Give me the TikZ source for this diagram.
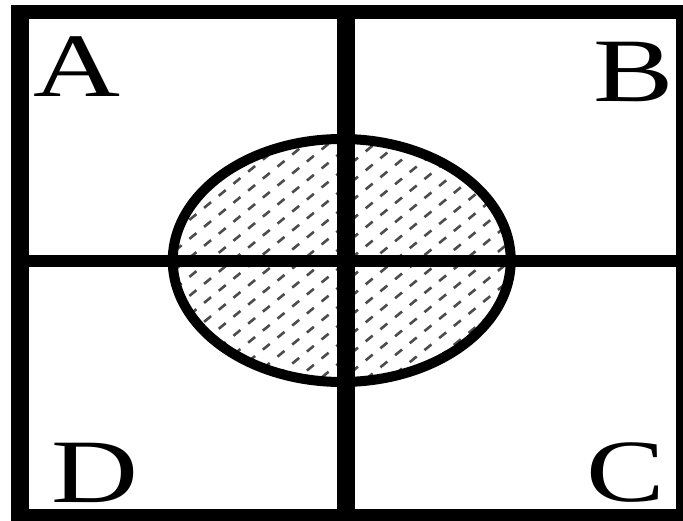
\documentclass[tikz,border=0pt]{standalone}
\usepackage{fontspec}
\setmainfont{Liberation Serif}
\begin{document}
\begin{tikzpicture}[x=1pt,y=-1pt,
  bar/.style={fill=black},
  hatchline/.style={draw=black!70,line width=2.6pt,dash pattern=on 9pt off 10pt},
  letter/.style={inner sep=0pt,font=\fontsize{90.6}{90.6}\selectfont}]
\useasboundingbox (0,0) rectangle (683,521);
\fill[white] (0,0) rectangle (683,521);
% hatching inside the ellipse
\begin{scope}
  \clip (341.75,260.5) ellipse [x radius=169pt, y radius=121.5pt];
  \foreach \k in {0,...,34}{
    \draw[hatchline] (160,{130+19*\k}) -- (530,{130+19*\k-0.82*370});
  }
\end{scope}
% ellipse outline
\draw[line width=10pt] (341.75,260.5) ellipse [x radius=169pt, y radius=121.5pt];
% frame and cross
\fill[bar] (11,5) rectangle (29,521);
\fill[bar] (676,5) rectangle (683,521);
\fill[bar] (11,5) rectangle (683,19);
\fill[bar] (11,509) rectangle (683,521);
\fill[bar] (337,5) rectangle (355,521);
\fill[bar] (11,255) rectangle (683,267);
% letters
\node[letter] (A) at (77.5,67) {\scalebox{1.33}[1]{A}};
\node[letter] (B) at (633.5,72) {\scalebox{1.33}[1]{B}};
\node[letter] (D) at (95.5,472.5) {\scalebox{1.33}[1]{D}};
\node[letter] (C) at (626,473) {\scalebox{1.3}[0.98]{C}};
\end{tikzpicture}
\end{document}
